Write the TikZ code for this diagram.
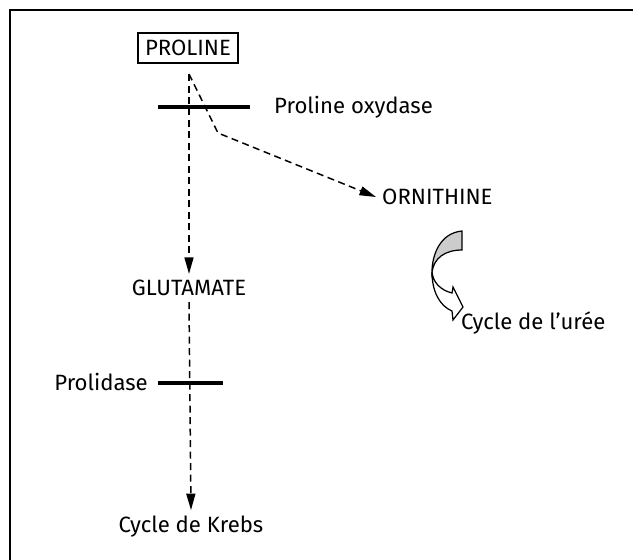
\documentclass[tikz,border=0pt]{standalone}
\usepackage{fontspec}
\setmainfont{Fira Sans}
\usetikzlibrary{arrows.meta}
\begin{document}
\begin{tikzpicture}[x=0.02cm,y=-0.02cm,
  every node/.style={font=\fontsize{12.6}{15}\selectfont},
  flow/.style={dash pattern=on 1.4mm off 0.9mm,line width=0.85pt,-{Triangle[length=3.3mm,width=1.8mm]}},
  enzyme/.style={line width=2.3pt}]
  \useasboundingbox (0,0) rectangle (633,559);
  \clip (0,0) rectangle (633,559);
  \draw[line width=1.1pt] (10,10) rectangle (650,580);
  % metabolites
  \node[draw,line width=0.6pt,inner xsep=4pt,minimum height=0.6cm] (proline) at (188,48) {PROLINE};
  \node[anchor=west] (ornithine) at (376,197) {ORNITHINE};
  \node (glutamate) at (189,288) {GLUTAMATE};
  \node (krebs) at (191,527) {Cycle de Krebs};
  \node[anchor=west] (uree) at (455,323) {Cycle de l'urée};
  % enzymes
  \coordinate (oxa) at (158,107);
  \coordinate (oxb) at (250,107);
  \draw[enzyme] (oxa) -- (oxb);
  \node[anchor=west] (oxydase) at (268,107) {Proline oxydase};
  \coordinate (pda) at (158,383);
  \coordinate (pdb) at (223,383);
  \draw[enzyme] (pda) -- (pdb);
  \node[anchor=east] (prolidase) at (154,382) {Prolidase};
  % pathways
  \coordinate (start) at (189,74);
  \coordinate (bend) at (218,133);
  \draw[flow] (start) -- (glutamate.north);
  \draw[flow] (start) -- (bend) -- (ornithine.west);
  \draw[flow] (glutamate.south) -- (krebs.north);
  % urea cycle ribbon
  \draw[fill=gray!40,line width=0.7pt] (462,231) .. controls (440,233) and (432,255) .. (432,272)
    .. controls (434,258) and (445,250) .. (462,250) -- cycle;
  \draw[fill=white,line width=0.7pt] (432,272) .. controls (432,292) and (440,306) .. (452,311)
    -- (453,320) -- (463,307) -- (453,287) -- (452,293) .. controls (440,290) and (433,282) .. (432,272);
\end{tikzpicture}
\end{document}
